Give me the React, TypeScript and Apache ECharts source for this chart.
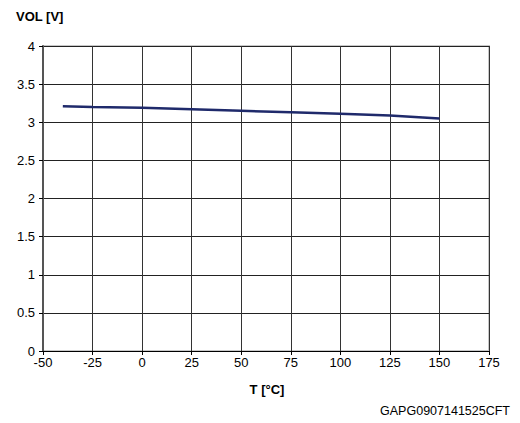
import React, { useEffect, useRef } from "react";
import * as echarts from "echarts";

const temps = [-40, -25, 0, 25, 50, 75, 100, 125, 150];
const vol = [3.21, 3.2, 3.19, 3.17, 3.15, 3.13, 3.11, 3.09, 3.05];
const yTitle = "VOL [V]";
const xTitle = "T [°C]";
const code = "GAPG0907141525CFT";

export default function App() {
  const ref = useRef<HTMLDivElement>(null);
  useEffect(() => {
    const chart = echarts.init(ref.current!, undefined, { renderer: "svg" });
    const font = "'Liberation Sans', Arial, sans-serif";
    chart.setOption({
      animation: false,
      backgroundColor: "#fff",
      textStyle: { fontFamily: font },
      grid: { left: 43, right: 31, top: 46, bottom: 72, show: true, borderColor: "#c8c8c8", borderWidth: 2 },
      title: [
        { text: yTitle, left: 16, top: 10, padding: 0, textStyle: { fontSize: 13, fontWeight: "bold", color: "#000", fontFamily: font } },
        { text: xTitle, left: 267, top: 383, padding: 0, textAlign: "center", textStyle: { fontSize: 13, fontWeight: "bold", color: "#000", fontFamily: font } },
        { text: code, right: 10, top: 404, padding: 0, textStyle: { fontSize: 12.5, fontWeight: "normal", color: "#000", fontFamily: font } },
      ],
      xAxis: {
        type: "value",
        min: -50,
        max: 175,
        interval: 25,
        axisLine: { show: true, onZero: false, lineStyle: { color: "#000", width: 1 } },
        axisTick: { show: true, length: 4, lineStyle: { color: "#000" } },
        axisLabel: { color: "#000", fontSize: 13, margin: 5, fontFamily: font },
        splitLine: { show: true, lineStyle: { color: "#333", width: 1 } },
      },
      yAxis: {
        type: "value",
        min: 0,
        max: 4,
        interval: 0.5,
        axisLine: { show: true, onZero: false, lineStyle: { color: "#555", width: 2 } },
        axisTick: { show: true, length: 4, lineStyle: { color: "#000" } },
        axisLabel: { color: "#000", fontSize: 13, margin: 8, fontFamily: font },
        splitLine: { show: true, lineStyle: { color: "#222", width: 1 } },
      },
      series: [
        {
          type: "line",
          data: temps.map((t, i) => [t, vol[i]]),
          showSymbol: false,
          lineStyle: { color: "#1f2a6b", width: 2.5 },
        },
      ],
    });
    return () => chart.dispose();
  }, []);
  return <div ref={ref} style={{ position: "absolute", left: 0, top: 0, width: 520, height: 423 }} />;
}
